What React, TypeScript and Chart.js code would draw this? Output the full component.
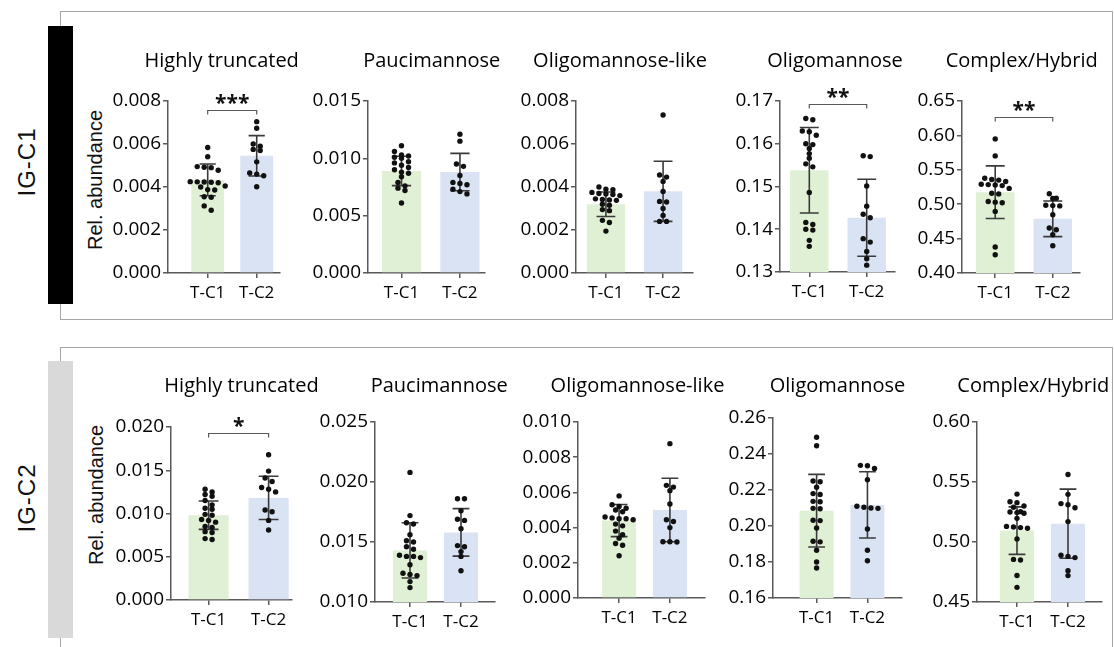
import React, { useEffect, useRef } from "react";
import { Chart, registerables } from "chart.js";

Chart.register(...registerables);

// ---------- labels ----------
const CATEGORIES = ["T-C1", "T-C2"];
const ROW_LABELS = ["IG-C1", "IG-C2"];
const PANEL_TITLES = ["Highly truncated", "Paucimannose", "Oligomannose-like", "Oligomannose", "Complex/Hybrid"];
const Y_AXIS_TITLE = "Rel. abundance";

// ---------- IG-C1 individual values ----------
const IGC1_TRUNC_TC1 = [0.00584, 0.00541, 0.00495, 0.00492, 0.0049, 0.00478, 0.00425, 0.00424, 0.00423, 0.00422, 0.0042, 0.00405, 0.004, 0.00388, 0.00386, 0.00355, 0.00352, 0.00312, 0.00292];
const IGC1_TRUNC_TC2 = [0.00704, 0.00673, 0.006, 0.0059, 0.00575, 0.0057, 0.00517, 0.00465, 0.0046, 0.00452, 0.00401];
const IGC1_PAUCI_TC1 = [0.0111, 0.0106, 0.0103, 0.0102, 0.0101, 0.01, 0.0097, 0.0096, 0.0094, 0.0092, 0.009, 0.0088, 0.0087, 0.0084, 0.0079, 0.0076, 0.0074, 0.0072, 0.0061];
const IGC1_PAUCI_TC2 = [0.0121, 0.0115, 0.0095, 0.0093, 0.0085, 0.0079, 0.0078, 0.0077, 0.0073, 0.0071, 0.0069];
const IGC1_OLIGOLIKE_TC1 = [0.004, 0.0039, 0.00388, 0.00375, 0.0037, 0.00368, 0.00365, 0.0036, 0.00345, 0.00342, 0.0034, 0.00338, 0.0032, 0.00315, 0.00295, 0.0029, 0.00245, 0.00235, 0.00195];
const IGC1_OLIGOLIKE_TC2 = [0.00735, 0.00456, 0.00446, 0.00426, 0.00379, 0.0033, 0.00333, 0.003, 0.00268, 0.0024, 0.0024];
const IGC1_OLIGO_TC1 = [0.1656, 0.1659, 0.163, 0.1628, 0.162, 0.16, 0.1598, 0.1589, 0.1577, 0.1566, 0.1553, 0.1546, 0.1486, 0.1416, 0.1411, 0.14, 0.1398, 0.1374, 0.136];
const IGC1_OLIGO_TC2 = [0.157, 0.1572, 0.1501, 0.1454, 0.1435, 0.1427, 0.1378, 0.137, 0.1348, 0.1331, 0.1316];
const IGC1_COMPLEX_TC1 = [0.5949, 0.5702, 0.536, 0.5378, 0.535, 0.529, 0.5285, 0.533, 0.528, 0.527, 0.523, 0.516, 0.515, 0.504, 0.503, 0.502, 0.4895, 0.4377, 0.4266];
const IGC1_COMPLEX_TC2 = [0.5151, 0.5088, 0.5082, 0.4985, 0.498, 0.4975, 0.4846, 0.4653, 0.4629, 0.4556, 0.4397];

// ---------- IG-C2 individual values ----------
const IGC2_TRUNC_TC1 = [0.0128, 0.0125, 0.0122, 0.012, 0.0115, 0.011, 0.0106, 0.0105, 0.0099, 0.0098, 0.0093, 0.0092, 0.009, 0.0085, 0.0084, 0.0079, 0.0078, 0.0071, 0.007];
const IGC2_TRUNC_TC2 = [0.0168, 0.0149, 0.0141, 0.0137, 0.013, 0.0128, 0.0125, 0.0104, 0.0102, 0.0092, 0.0081];
const IGC2_PAUCI_TC1 = [0.0208, 0.0172, 0.0166, 0.0165, 0.0156, 0.0151, 0.015, 0.0146, 0.0144, 0.0139, 0.0138, 0.0138, 0.0137, 0.0131, 0.0124, 0.0123, 0.0122, 0.0117, 0.0112];
const IGC2_PAUCI_TC2 = [0.0186, 0.0186, 0.0176, 0.0169, 0.0168, 0.0161, 0.0147, 0.0146, 0.0142, 0.0138, 0.0126];
const IGC2_OLIGOLIKE_TC1 = [0.0058, 0.0053, 0.0052, 0.0051, 0.005, 0.0049, 0.0046, 0.00455, 0.0045, 0.0045, 0.00445, 0.0042, 0.0041, 0.0038, 0.0036, 0.0034, 0.0031, 0.003, 0.0024];
const IGC2_OLIGOLIKE_TC2 = [0.00877, 0.0064, 0.0063, 0.0061, 0.00534, 0.00445, 0.00435, 0.004, 0.0032, 0.00318, 0.0032];
const IGC2_OLIGO_TC1 = [0.2493, 0.2446, 0.225, 0.2246, 0.2215, 0.218, 0.2175, 0.2137, 0.2135, 0.2096, 0.2098, 0.203, 0.2032, 0.1989, 0.1915, 0.1912, 0.1865, 0.18, 0.1767];
const IGC2_OLIGO_TC2 = [0.2337, 0.2335, 0.232, 0.2257, 0.211, 0.2104, 0.21, 0.2098, 0.1983, 0.1865, 0.1807];
const IGC2_COMPLEX_TC1 = [0.5399, 0.5335, 0.5328, 0.53, 0.529, 0.5253, 0.525, 0.5245, 0.524, 0.5197, 0.513, 0.5125, 0.512, 0.5115, 0.5026, 0.4855, 0.485, 0.4721, 0.4622];
const IGC2_COMPLEX_TC2 = [0.5563, 0.5397, 0.532, 0.531, 0.5285, 0.517, 0.489, 0.488, 0.487, 0.476, 0.472];

// ---------- bar heights (mean) and error bars (SD), per panel ----------
const IGC1_MEAN_TC1 = [0.00433, 0.0089, 0.0032, 0.1538, 0.5175];
const IGC1_MEAN_TC2 = [0.00545, 0.0088, 0.0038, 0.1427, 0.4788];
const IGC1_SD_TC1 = [0.00074, 0.00128, 0.00057, 0.01, 0.0382];
const IGC1_SD_TC2 = [0.00094, 0.00163, 0.0014, 0.009, 0.0259];
const IGC2_MEAN_TC1 = [0.0098, 0.0143, 0.0044, 0.2085, 0.5095];
const IGC2_MEAN_TC2 = [0.0118, 0.0158, 0.005, 0.2117, 0.5153];
const IGC2_SD_TC1 = [0.00164, 0.0023, 0.00091, 0.0202, 0.0198];
const IGC2_SD_TC2 = [0.0025, 0.00198, 0.0018, 0.0184, 0.0288];

// ---------- y axes ----------
const IGC1_Y_MIN = [0, 0, 0, 0.13, 0.4];
const IGC1_Y_MAX = [0.008, 0.015, 0.008, 0.17, 0.65];
const IGC1_Y_STEP = [0.002, 0.005, 0.002, 0.01, 0.05];
const IGC2_Y_MIN = [0, 0.01, 0, 0.16, 0.45];
const IGC2_Y_MAX = [0.02, 0.025, 0.01, 0.26, 0.6];
const IGC2_Y_STEP = [0.005, 0.005, 0.002, 0.02, 0.05];
const Y_DECIMALS = [3, 3, 3, 2, 2];

// ---------- significance ----------
const IGC1_SIG = ["***", "", "", "**", "**"];
const IGC1_SIG_LEVEL = [0.0076, 0, 0, 0.1693, 0.627];
const IGC2_SIG = ["*", "", "", "", ""];
const IGC2_SIG_LEVEL = [0.01935, 0, 0, 0, 0];

// ---------- layout (page pixels) ----------
const TOP_LAYOUT = [
  { axisX: 168, right: 280, c0: 207.7, c1: 256.7, top: 101, bottom: 272.7, titleX: 221.7, titleY: 61.7 },
  { axisX: 368.3, right: 485, c0: 401.7, c1: 460, top: 100.5, bottom: 272.7, titleX: 431.7, titleY: 61.7 },
  { axisX: 576, right: 693.3, c0: 606, c1: 663.3, top: 101, bottom: 273.3, titleX: 620, titleY: 61.7 },
  { axisX: 780, right: 895, c0: 809.3, c1: 866.7, top: 101, bottom: 271.7, titleX: 835, titleY: 61.7 },
  { axisX: 961.7, right: 1080, c0: 995, c1: 1052.7, top: 101, bottom: 273.3, titleX: 1021.7, titleY: 61.7 },
];
const BOTTOM_LAYOUT = [
  { axisX: 170.7, right: 291.7, c0: 208.3, c1: 268.3, top: 426.7, bottom: 600, titleX: 241.5, titleY: 386.7 },
  { axisX: 375, right: 495, c0: 410, c1: 461, top: 422.3, bottom: 601.7, titleX: 439.2, titleY: 386.7 },
  { axisX: 578.3, right: 705, c0: 619.3, c1: 670, top: 422.3, bottom: 598.3, titleX: 637.5, titleY: 386.7 },
  { axisX: 773.3, right: 901.7, c0: 816.7, c1: 867.3, top: 418.3, bottom: 598.3, titleX: 837.5, titleY: 386.7 },
  { axisX: 976.7, right: 1101.7, c0: 1016.7, c1: 1067.7, top: 421.7, bottom: 602.3, titleX: 1033.3, titleY: 386.7 },
];

const GREEN = "#e0f0d4";
const BLUE = "#dae3f3";
const AXIS = "#595959";
const ERR = "#3a3a3a";
const FONT = "'Open Sans', 'Noto Sans', sans-serif";

type Layout = typeof TOP_LAYOUT[number];
type Spec = {
  title: string;
  pts: [number[], number[]];
  mean: [number, number];
  sd: [number, number];
  yMin: number;
  yMax: number;
  yStep: number;
  dec: number;
  sig: string;
  sigLevel: number;
  layout: Layout;
};

const ROW1_POINTS: [number[], number[]][] = [
  [IGC1_TRUNC_TC1, IGC1_TRUNC_TC2],
  [IGC1_PAUCI_TC1, IGC1_PAUCI_TC2],
  [IGC1_OLIGOLIKE_TC1, IGC1_OLIGOLIKE_TC2],
  [IGC1_OLIGO_TC1, IGC1_OLIGO_TC2],
  [IGC1_COMPLEX_TC1, IGC1_COMPLEX_TC2],
];
const ROW2_POINTS: [number[], number[]][] = [
  [IGC2_TRUNC_TC1, IGC2_TRUNC_TC2],
  [IGC2_PAUCI_TC1, IGC2_PAUCI_TC2],
  [IGC2_OLIGOLIKE_TC1, IGC2_OLIGOLIKE_TC2],
  [IGC2_OLIGO_TC1, IGC2_OLIGO_TC2],
  [IGC2_COMPLEX_TC1, IGC2_COMPLEX_TC2],
];

function buildSpecs(): Spec[] {
  const out: Spec[] = [];
  for (let i = 0; i < 5; i++) {
    out.push({
      title: PANEL_TITLES[i], pts: ROW1_POINTS[i],
      mean: [IGC1_MEAN_TC1[i], IGC1_MEAN_TC2[i]], sd: [IGC1_SD_TC1[i], IGC1_SD_TC2[i]],
      yMin: IGC1_Y_MIN[i], yMax: IGC1_Y_MAX[i], yStep: IGC1_Y_STEP[i], dec: Y_DECIMALS[i],
      sig: IGC1_SIG[i], sigLevel: IGC1_SIG_LEVEL[i], layout: TOP_LAYOUT[i],
    });
  }
  for (let i = 0; i < 5; i++) {
    out.push({
      title: PANEL_TITLES[i], pts: ROW2_POINTS[i],
      mean: [IGC2_MEAN_TC1[i], IGC2_MEAN_TC2[i]], sd: [IGC2_SD_TC1[i], IGC2_SD_TC2[i]],
      yMin: IGC2_Y_MIN[i], yMax: IGC2_Y_MAX[i], yStep: IGC2_Y_STEP[i], dec: Y_DECIMALS[i],
      sig: IGC2_SIG[i], sigLevel: IGC2_SIG_LEVEL[i], layout: BOTTOM_LAYOUT[i],
    });
  }
  return out;
}

// deterministic beeswarm: points with near-equal values are spread side by side
function swarmOffsets(values: number[], pxPerValue: number, unitPx: number): number[] {
  const order = values.map((_, i) => i).sort((a, b) => values[b] - values[a]);
  const offsets = new Array(values.length).fill(0);
  const tolPx = 4.6;
  const stepPx = 7;
  let row: number[] = [];
  let rowStart = 0;
  const flush = () => {
    row.forEach((k, j) => {
      offsets[k] = ((j - (row.length - 1) / 2) * stepPx) / unitPx;
    });
    row = [];
  };
  order.forEach((i) => {
    const y = values[i] * pxPerValue;
    if (row.length && rowStart - y > tolPx) flush();
    if (!row.length) rowStart = y;
    row.push(i);
  });
  flush();
  return offsets;
}

const PAD_L = 80;
const PAD_T = 75;
const PAD_R = 30;
const PAD_B = 45;

function Panel({ spec }: { spec: Spec }) {
  const ref = useRef<HTMLCanvasElement | null>(null);
  const L = spec.layout;
  const cl = Math.round(L.axisX) - PAD_L;
  const ct = Math.round(L.top) - PAD_T;
  const w = Math.round(L.right) + PAD_R - cl;
  const h = Math.round(L.bottom) + PAD_B - ct;

  useEffect(() => {
    if (!ref.current) return;
    const unit = L.c1 - L.c0;
    const xMin = -(L.c0 - L.axisX) / unit;
    const xMax = 1 + (L.right - L.c1) / unit;
    const plotH = Math.round(L.bottom) - Math.round(L.top);
    const pxPerValue = plotH / (spec.yMax - spec.yMin);

    const scatter: { x: number; y: number }[] = [];
    spec.pts.forEach((vals, g) => {
      const offs = swarmOffsets(vals, pxPerValue, unit);
      vals.forEach((v, i) => scatter.push({ x: g + offs[i], y: v }));
    });

    const yTicks: number[] = [];
    const n = Math.round((spec.yMax - spec.yMin) / spec.yStep);
    for (let i = 0; i <= n; i++) yTicks.push(spec.yMin + i * spec.yStep);

    const panelPlugin = {
      id: "panelDecor",
      beforeDatasetDraw(chart: any, args: any) {
        if (args.index !== 1) return;
        const ctx = chart.ctx;
        const xs = chart.scales.x;
        const ys = chart.scales.y;
        ctx.save();
        ctx.strokeStyle = ERR;
        ctx.lineWidth = 1.6;
        [0, 1].forEach((g) => {
          const cx = xs.getPixelForValue(g);
          const hw = xs.getPixelForValue(g + 0.165) - cx;
          const yHi = ys.getPixelForValue(spec.mean[g] + spec.sd[g]);
          const yLo = ys.getPixelForValue(spec.mean[g] - spec.sd[g]);
          ctx.beginPath();
          ctx.moveTo(cx, yHi);
          ctx.lineTo(cx, yLo);
          ctx.moveTo(cx - hw, yHi);
          ctx.lineTo(cx + hw, yHi);
          ctx.moveTo(cx - hw, yLo);
          ctx.lineTo(cx + hw, yLo);
          ctx.stroke();
        });
        ctx.restore();
      },
      afterDraw(chart: any) {
        const ctx = chart.ctx;
        const xs = chart.scales.x;
        const ys = chart.scales.y;
        ctx.save();
        ctx.fillStyle = "#000";
        ctx.font = `20px ${FONT}`;
        ctx.textAlign = "center";
        ctx.textBaseline = "middle";
        ctx.fillText(spec.title, L.titleX - cl, L.titleY - ct);
        if (spec.sig) {
          const x0 = xs.getPixelForValue(0);
          const x1 = xs.getPixelForValue(1);
          const y = Math.round(ys.getPixelForValue(spec.sigLevel)) + 0.5;
          ctx.strokeStyle = AXIS;
          ctx.lineWidth = 1.2;
          ctx.beginPath();
          ctx.moveTo(x0, y + 4);
          ctx.lineTo(x0, y);
          ctx.lineTo(x1, y);
          ctx.lineTo(x1, y + 4);
          ctx.stroke();
          ctx.font = `bold 21px ${FONT}`;
          ctx.textBaseline = "alphabetic";
          ctx.fillStyle = "#111";
          ctx.fillText(spec.sig, (x0 + x1) / 2, y - 1);
        }
        ctx.restore();
      },
    };

    const chart = new Chart(ref.current, {
      type: "bar",
      data: {
        datasets: [
          {
            type: "bar",
            data: [
              { x: 0, y: spec.mean[0] },
              { x: 1, y: spec.mean[1] },
            ],
            backgroundColor: [GREEN, BLUE],
            borderWidth: 0,
            barPercentage: 0.67,
            categoryPercentage: 1,
            order: 1,
          } as any,
          {
            type: "scatter",
            data: scatter,
            pointRadius: 2.7,
            pointBackgroundColor: "#111",
            pointBorderWidth: 0,
            showLine: false,
            order: 0,
          } as any,
        ],
      },
      options: {
        animation: false,
        responsive: false,
        devicePixelRatio: 1,
        events: [],
        layout: { padding: { left: 0, top: PAD_T, right: PAD_R, bottom: 0 } },
        plugins: { legend: { display: false }, tooltip: { enabled: false }, title: { display: false } },
        scales: {
          x: {
            type: "linear",
            min: xMin,
            max: xMax,
            offset: false,
            afterBuildTicks: (s: any) => {
              s.ticks = [{ value: 0 }, { value: 1 }];
            },
            afterFit: (s: any) => {
              s.height = PAD_B;
            },
            ticks: {
              callback: (v: any) => CATEGORIES[Math.round(Number(v))],
              font: { family: FONT, size: 17 },
              color: "#000",
              padding: 5,
              maxRotation: 0,
              autoSkip: false,
            },
            grid: { display: true, offset: false, drawOnChartArea: false, drawTicks: true, tickLength: 5, color: AXIS, lineWidth: 1.5 },
            border: { display: true, color: AXIS, width: 1.5 },
          } as any,
          y: {
            type: "linear",
            min: spec.yMin,
            max: spec.yMax,
            beginAtZero: false,
            afterBuildTicks: (s: any) => {
              s.ticks = yTicks.map((v) => ({ value: v }));
            },
            afterFit: (s: any) => {
              s.width = PAD_L;
            },
            ticks: {
              callback: (v: any) => Number(v).toFixed(spec.dec),
              font: { family: FONT, size: 19 },
              color: "#000",
              padding: 2,
            },
            grid: { display: true, drawOnChartArea: false, drawTicks: true, tickLength: 5, color: AXIS, lineWidth: 1.5 },
            border: { display: true, color: AXIS, width: 1.5 },
          } as any,
        },
      },
      plugins: [panelPlugin as any],
    });
    return () => chart.destroy();
  }, []);

  return (
    <canvas
      ref={ref}
      width={w}
      height={h}
      style={{ position: "absolute", left: cl, top: ct, width: w, height: h }}
    />
  );
}

function RotText({ text, cx, cy, size, spacing = 0 }: { text: string; cx: number; cy: number; size: number; spacing?: number }) {
  return (
    <div
      style={{
        position: "absolute",
        left: cx,
        top: cy,
        transform: "translate(-50%, -50%) rotate(-90deg)",
        fontFamily: "'Liberation Sans', Arial, sans-serif",
        fontSize: size,
        letterSpacing: spacing,
        color: "#111",
        whiteSpace: "nowrap",
        lineHeight: 1,
      }}
    >
      {text}
    </div>
  );
}

export default function App() {
  const specs = buildSpecs();
  return (
    <div style={{ position: "absolute", left: 0, top: 0, width: 1114, height: 647, background: "#fff", overflow: "hidden" }}>
      <div style={{ position: "absolute", left: 60, top: 11, width: 1053, height: 309, boxSizing: "border-box", border: "1px solid #a6a6a6" }} />
      <div style={{ position: "absolute", left: 60, top: 347, width: 1053, height: 400, boxSizing: "border-box", border: "1px solid #a6a6a6" }} />
      <div style={{ position: "absolute", left: 48, top: 26, width: 25, height: 278, background: "#000" }} />
      <div style={{ position: "absolute", left: 48, top: 361, width: 25, height: 277, background: "#d9d9d9" }} />
      <RotText text={ROW_LABELS[0]} cx={27} cy={162} size={24} spacing={1} />
      <RotText text={ROW_LABELS[1]} cx={27} cy={498} size={24} spacing={1} />
      <RotText text={Y_AXIS_TITLE} cx={95} cy={180} size={20} />
      <RotText text={Y_AXIS_TITLE} cx={96} cy={495} size={20} />
      {specs.map((s, i) => (
        <Panel key={i} spec={s} />
      ))}
    </div>
  );
}
